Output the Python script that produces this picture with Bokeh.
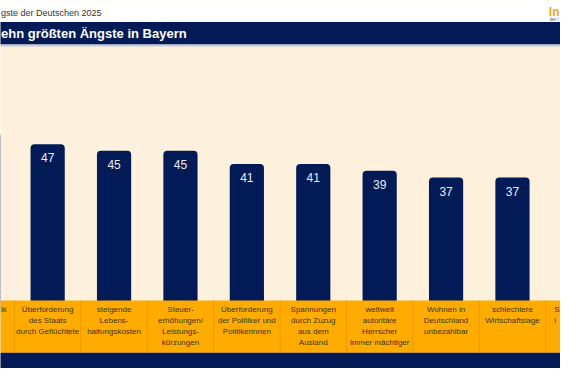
from bokeh.plotting import figure
from bokeh.models import Range1d, ColumnDataSource
from bokeh.core.properties import value
from bokeh.embed import file_html
from bokeh.resources import INLINE

# ---- data (the reference is a crop: outer columns are cut at the edges) ----
categories = [
    "Überforderung\ndes Staats\ndurch Geflüchtete",
    "steigende\nLebens-\nhaltungskosten",
    "Steuer-\nerhöhungen/\nLeistungs-\nkürzungen",
    "Überforderung\nder Politiker und\nPolitikerinnen",
    "Spannungen\ndurch Zuzug\naus dem\nAusland",
    "weltweit\nautoritäre\nHerrscher\nimmer mächtiger",
    "Wohnen in\nDeutschland\nunbezahlbar",
    "schlechtere\nWirtschaftslage",
]
values = [47, 45, 45, 41, 41, 39, 37, 37]
edge_values = [50, 35]            # bars of the cut-off first / last column
edge_labels = ["ik", "S\ni"]      # visible fragments of their labels
subtitle = "gste der Deutschen 2025"
title = "ehn größten Ängste in Bayern"
logo_main = "In"
logo_sub = "der I"

# ---- layout helpers (reference pixel -> data) ----
COL = 68.3          # px per category
X_FIRST = 48.5      # px centre of category index 1
PX_PER_UNIT = 3.47  # px per percentage point
BASE = 313.0        # px of zero line


def dx(px):
    return (px - X_FIRST) / COL + 1


def dy(py):
    return (BASE - py) / PX_PER_UNIT


W, H = 560, 368
S = W / 576.0
X0, X1 = dx(0), dx(576)
Y0, Y1 = dy(384), dy(0)

NAVY = "#021a56"
ORANGE = "#ffab00"
CREAM = "#fdf0dc"
FONT = value("Liberation Sans")

p = figure(width=W, height=H, output_backend="svg", toolbar_location=None,
           x_range=Range1d(X0, X1), y_range=Range1d(Y0, Y1),
           x_axis_location=None, y_axis_location=None, min_border=0)
p.grid.visible = False
p.outline_line_color = None
p.background_fill_color = CREAM
p.border_fill_color = CREAM

L, R = X0 - 1, X1 + 1
# top white strip
p.quad(left=L, right=R, top=Y1 + 1, bottom=dy(22.5), fill_color="white", line_color=None)
# title band
p.quad(left=L, right=R, top=dy(22.5), bottom=dy(46), fill_color=NAVY, line_color=None)
p.quad(left=L, right=R, top=dy(46), bottom=dy(48), fill_color="#c3cbde", line_color=None)

idx = list(range(1, len(values) + 1))
edge_idx = [0, len(values) + 1]
src = ColumnDataSource(dict(x=idx, top=values, cat=categories,
                            lab=[str(v) for v in values]))

p.vbar(x="x", top="top", bottom=-4, width=0.515, source=src,
       fill_color=NAVY, line_color=None, border_radius=4)
p.vbar(x=edge_idx, top=edge_values, bottom=-4, width=0.515,
       fill_color=NAVY, line_color=None, border_radius=4)

# orange label band and bottom navy band
p.quad(left=L, right=R, top=0, bottom=dy(367.5), fill_color=ORANGE, line_color=None)
p.quad(left=L, right=R, top=dy(367.5), bottom=Y0 - 1, fill_color=NAVY, line_color=None)

# separators between categories
sep_x = [i - 0.5 for i in idx] + [idx[-1] + 0.5]
p.segment(x0=sep_x, x1=sep_x, y0=[0] * len(sep_x), y1=[dy(367.5)] * len(sep_x),
          line_color="#e99c00", line_width=1)

# value labels inside bars
p.text(x="x", y="top", text="lab", source=src, text_align="center",
       text_baseline="middle", y_offset=14 * S, text_color="#e8eef8",
       text_font=FONT, text_font_size="12px")

# category labels
p.text(x="x", y=0, text="cat", source=src, text_align="center",
       text_baseline="top", y_offset=5 * S, text_color="#3d3418",
       text_font=FONT, text_font_size="8px", text_line_height=1.2)

# fragments of the cut-off outer labels
p.text(x=[X0], y=[0], text=[edge_labels[0]], x_offset=0.5, text_align="left",
       text_baseline="top", y_offset=5 * S, text_color="#3d3418",
       text_font=FONT, text_font_size="8px", text_line_height=1.2)
p.text(x=[X0], y=[0], text=[edge_labels[1]], x_offset=569.5 * S, text_align="left",
       text_baseline="top", y_offset=5 * S, text_color="#3d3418",
       text_font=FONT, text_font_size="8px", text_line_height=1.2)

# header texts
p.text(x=[X0], y=[dy(13)], text=[subtitle], x_offset=0.5, text_align="left",
       text_baseline="middle", text_color="#333333", text_font=FONT,
       text_font_size="9px")
p.text(x=[X0], y=[dy(34.5)], text=[title], x_offset=0.5, text_align="left",
       text_baseline="middle", text_color="white", text_font=FONT,
       text_font_size="13px", text_font_style="bold")
p.text(x=[X0], y=[dy(12)], text=[logo_main], x_offset=564 * S, text_align="left",
       text_baseline="middle", text_color="#f5a623", text_font=FONT,
       text_font_size="12px", text_font_style="bold")
p.text(x=[X0], y=[dy(19.5)], text=[logo_sub], x_offset=565 * S, text_align="left",
       text_baseline="middle", text_color="#555555", text_font=FONT,
       text_font_size="4.5px")

open("out.html", "w").write(file_html(p, INLINE))
